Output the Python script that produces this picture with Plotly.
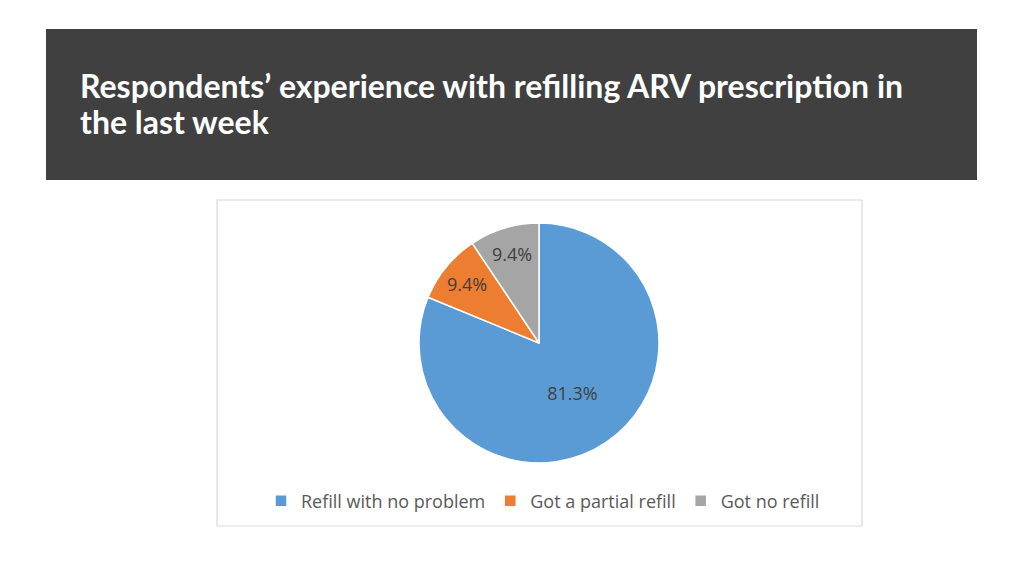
import plotly.graph_objects as go

W, H = 1024, 576
OFF = 8  # page body margin that the browser adds around the figure

labels = ["Refill with no problem", "Got a partial refill", "Got no refill"]
values = [81.3, 9.4, 9.4]
colors = ["#5B9BD5", "#ED7D31", "#A5A5A5"]
title_lines = ["Respondents’ experience with refilling ARV prescription in", "the last week"]


def px(x):
    return (x - OFF) / W


def py(y):
    return 1 - (y - OFF) / H


# pie placement (pixels)
cx, cy, r = 539, 343, 120

fig = go.Figure()
fig.add_trace(
    go.Pie(
        labels=labels,
        values=values,
        sort=False,
        direction="clockwise",
        rotation=0,
        marker=dict(colors=colors, line=dict(color="white", width=1.5)),
        texttemplate="%{value}%",
        textposition="inside",
        insidetextorientation="horizontal",
        textfont=dict(family="Open Sans", size=18, color="#404040"),
        hoverinfo="label+value",
        domain=dict(x=[px(cx - r), px(cx + r)], y=[py(cy + r), py(cy - r)]),
    )
)

fig.update_layout(
    width=W,
    height=H,
    margin=dict(l=0, r=0, t=0, b=0),
    paper_bgcolor="white",
    plot_bgcolor="white",
    showlegend=True,
    legend=dict(
        orientation="h",
        x=px(543),
        xanchor="center",
        y=py(501),
        yanchor="middle",
        font=dict(family="Open Sans", size=18, color="#595959"),
        itemwidth=30,
        traceorder="normal",
    ),
    shapes=[
        dict(type="rect", xref="paper", yref="paper",
             x0=px(46), x1=px(977), y0=py(180), y1=py(29),
             fillcolor="#404040", line=dict(width=0), layer="below"),
        dict(type="rect", xref="paper", yref="paper",
             x0=px(217), x1=px(862), y0=py(526), y1=py(200),
             fillcolor="rgba(0,0,0,0)", line=dict(color="#D9D9D9", width=1.2)),
    ],
    annotations=[
        dict(text="<b>" + line + "</b>", xref="paper", yref="paper",
             x=px(78), y=py(yc), xanchor="left", yanchor="middle", align="left",
             showarrow=False,
             font=dict(family="Lato", size=32, color="white"))
        for line, yc in zip(title_lines, [86, 122])
    ],
)

fig.write_html("out.html")
